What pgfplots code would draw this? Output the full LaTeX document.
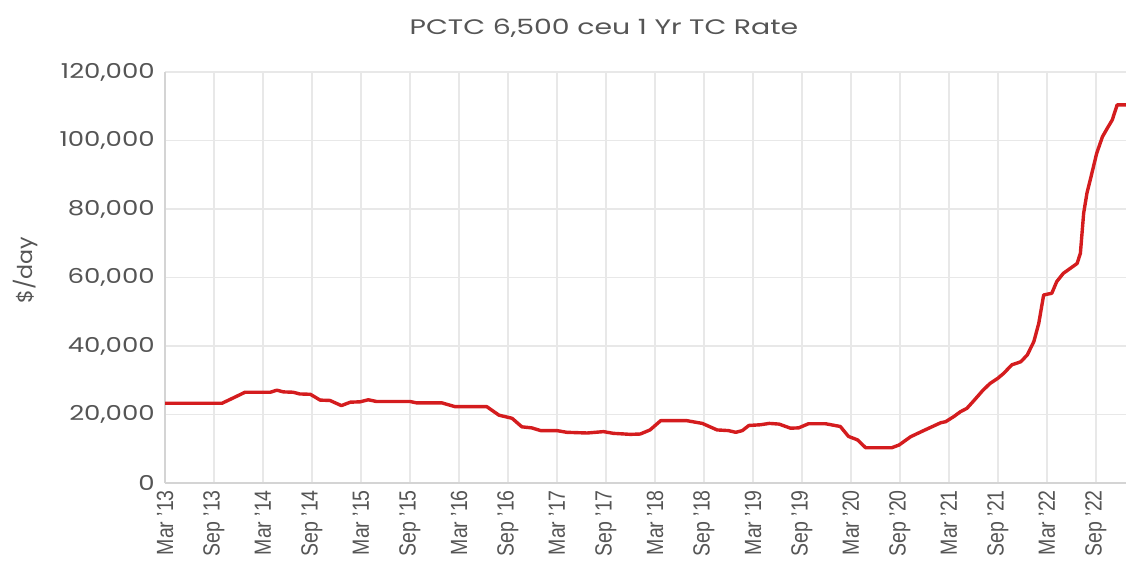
\documentclass[border=0pt]{standalone}
\usepackage{fontspec}
\setmainfont{Liberation Sans}
\newfontfamily\widetick{Poppins}[FakeStretch=1.27]
\newfontfamily\widetitle{Poppins}[FakeStretch=1.35]
\newfontfamily\widelab{Poppins}[FakeStretch=1.08]
\usepackage{graphicx}
\usepackage{pgfplots}
\pgfplotsset{compat=1.18}
\newcommand{\xl}[1]{\scalebox{1}[1.2]{#1}}
\definecolor{linered}{RGB}{212,28,30}
\definecolor{gridgray}{RGB}{232,232,232}
\definecolor{axisgray}{RGB}{212,212,212}
\definecolor{textgray}{RGB}{85,85,85}
\begin{document}
\begin{tikzpicture}
\useasboundingbox (0,0) rectangle (1126pt,560pt);
\begin{axis}[
  at={(165pt,77pt)}, anchor=south west,
  scale only axis, width=975pt, height=411pt,
  xmin=0, xmax=119.4, ymin=0, ymax=120000,
  axis x line*=bottom, axis y line*=left,
  axis line style={axisgray, line width=1.6pt, -},
  grid=major, major grid style={gridgray, line width=1.3pt},
  major tick length=0pt,
  scaled y ticks=false,
  xtick={0,6,...,114},
  xticklabels={\xl{Mar '13},\xl{Sep '13},\xl{Mar '14},\xl{Sep '14},\xl{Mar '15},\xl{Sep '15},\xl{Mar '16},\xl{Sep '16},\xl{Mar '17},\xl{Sep '17},\xl{Mar '18},\xl{Sep '18},\xl{Mar '19},\xl{Sep '19},\xl{Mar '20},\xl{Sep '20},\xl{Mar '21},\xl{Sep '21},\xl{Mar '22},\xl{Sep '22}},
  xticklabel style={rotate=90, anchor=east, inner xsep=7pt, inner ysep=0pt, text=textgray, font=\fontsize{19.5}{19.5}\selectfont},
  ytick={0,20000,40000,60000,80000,100000,120000},
  yticklabels={0,{20,000},{40,000},{60,000},{80,000},{100,000},{120,000}},
  yticklabel style={anchor=east, inner xsep=0pt, xshift=-10pt, text=textgray, font=\widetick\fontsize{20.5}{20.5}\selectfont},
]
\addplot[linered, line width=3.4pt, line join=round] coordinates {
(0,23300) (7,23300) (8.5,25000) (9.8,26500) (12.9,26500) (13.7,27100) (14.5,26600)
(15.7,26500) (16.5,26000) (17.8,25900) (19,24200) (20.2,24100) (21.6,22600)
(22.7,23600) (23.9,23700) (24.9,24300) (25.9,23800) (30,23800) (30.8,23400)
(33.9,23400) (35.5,22300) (39.4,22300) (40.9,19800) (42.5,18900) (43.7,16400)
(44.9,16100) (46,15300) (48,15300) (49.2,14800) (51.7,14600) (53.7,15000)
(54.9,14500) (57,14200) (58.2,14300) (59.4,15500) (60.7,18200) (63.9,18200)
(65.8,17400) (67.6,15500) (69,15300) (69.9,14800) (70.7,15300) (71.5,16800)
(72.9,17000) (74,17400) (75.2,17200) (76.6,16000) (77.6,16100) (78.8,17300)
(80.9,17300) (82.7,16500) (83.7,13600) (84.8,12600) (85.8,10300) (89,10300)
(89.9,11100) (91.3,13500) (92.9,15300) (93.9,16400) (95,17600) (95.6,17900)
(96.6,19400) (97.4,20800) (98.2,21800) (99,23900) (100.1,26900) (101,29000)
(102,30600) (102.7,32000) (103.7,34500) (104.8,35400) (105.6,37400) (106.4,41300)
(107,46600) (107.6,54900) (108.6,55400) (109.2,58800) (110,61200) (111.7,64100)
(112.1,67100) (112.5,78800) (112.9,84600) (113.5,90400) (114.1,96300)
(114.8,101100) (115.4,103600) (116,106000) (116.6,110400) (118.5,110400)
};
\end{axis}
\node[text=textgray, font=\widetitle\fontsize{21}{21}\selectfont] at (604pt,532pt) {PCTC 6,500 ceu 1 Yr TC Rate};
\node[rotate=90, text=textgray, font=\widelab\fontsize{20.5}{20.5}\selectfont] at (25pt,290pt) {\$/day};
\end{tikzpicture}
\end{document}
